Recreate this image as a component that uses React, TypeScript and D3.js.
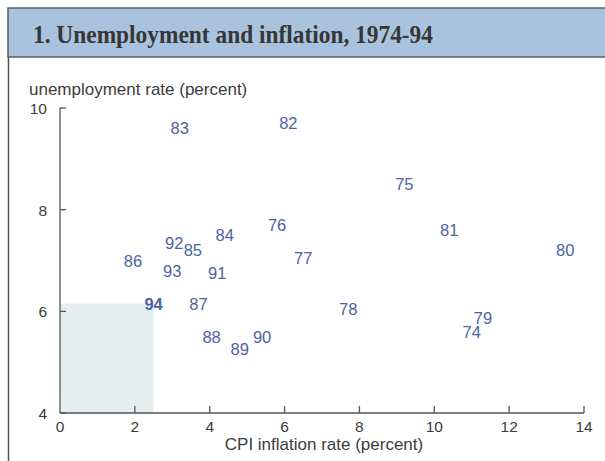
import React, { useRef, useEffect } from 'react';
import * as d3 from 'd3';

// Years (labels) and their CPI inflation / unemployment rates
const years = ['74', '75', '76', '77', '78', '79', '80', '81', '82', '83', '84', '85', '86', '87', '88', '89', '90', '91', '92', '93', '94'];
const inflation = [11.0, 9.2, 5.8, 6.5, 7.7, 11.3, 13.5, 10.4, 6.1, 3.2, 4.4, 3.55, 1.95, 3.7, 4.05, 4.8, 5.4, 4.2, 3.05, 3.0, 2.5];
const unemployment = [5.6, 8.5, 7.7, 7.05, 6.05, 5.87, 7.2, 7.6, 9.7, 9.6, 7.5, 7.2, 7.0, 6.15, 5.5, 5.25, 5.5, 6.75, 7.35, 6.8, 6.15];

const xTicks = [0, 2, 4, 6, 8, 10, 12, 14];
const yTicks = [4, 6, 8, 10];
// shaded target zone: inflation up to 2.5, unemployment up to 6.15
const zoneX = [0, 2.5];
const zoneY = [4, 6.15];

const title = '1. Unemployment and inflation, 1974-94';

const W = 605;
const H = 461;

const App = () => {
  const ref = useRef<SVGSVGElement>(null);

  useEffect(() => {
    const svg = d3.select(ref.current);
    svg.selectAll('*').remove();

    const x = d3.scaleLinear().domain([0, 14]).range([60, 584]);
    const y = d3.scaleLinear().domain([4, 10]).range([413, 108]);
    const ink = '#3c3c3c';
    const sans = 'Helvetica, Arial, "Liberation Sans", sans-serif';

    // title band
    svg.append('rect')
      .attr('x', 8).attr('y', 8).attr('width', W).attr('height', 49)
      .attr('fill', '#a9c3df').attr('stroke', '#5a5e66').attr('stroke-width', 1.5);
    svg.append('text')
      .attr('x', 33).attr('y', 43)
      .attr('font-family', '"Liberation Serif", "Times New Roman", serif')
      .attr('font-weight', 'bold').attr('font-size', 26)
      .attr('textLength', 400).attr('lengthAdjust', 'spacingAndGlyphs')
      .attr('fill', '#363636')
      .text(title);

    // left frame line of panel
    svg.append('line')
      .attr('x1', 8.5).attr('x2', 8.5).attr('y1', 57).attr('y2', H)
      .attr('stroke', '#555').attr('stroke-width', 1.5);

    // shaded zone
    svg.append('rect')
      .attr('x', x(zoneX[0])).attr('y', y(zoneY[1]))
      .attr('width', x(zoneX[1]) - x(zoneX[0]))
      .attr('height', y(zoneY[0]) - y(zoneY[1]))
      .attr('fill', '#e4eeee');

    // axes
    const g = svg.append('g').attr('stroke', '#555').attr('stroke-width', 1.3);
    g.append('line').attr('x1', x(0)).attr('x2', x(0)).attr('y1', y(10)).attr('y2', y(4));
    g.append('line').attr('x1', x(0)).attr('x2', x(14)).attr('y1', y(4)).attr('y2', y(4));
    g.selectAll('.yt').data(yTicks).enter().append('line')
      .attr('x1', x(0)).attr('x2', x(0) + 6).attr('y1', d => y(d)).attr('y2', d => y(d));
    g.selectAll('.xt').data(xTicks.filter(d => d > 0)).enter().append('line')
      .attr('x1', d => x(d)).attr('x2', d => x(d)).attr('y1', y(4)).attr('y2', y(4) - 7);

    svg.selectAll('.ylab').data(yTicks).enter().append('text')
      .attr('x', 47).attr('y', d => y(d) + 6)
      .attr('text-anchor', 'end')
      .attr('font-family', sans).attr('font-size', 15.5).attr('fill', ink)
      .text(d => d);
    svg.selectAll('.xlab').data(xTicks).enter().append('text')
      .attr('x', d => x(d)).attr('y', 432)
      .attr('text-anchor', 'middle')
      .attr('font-family', sans).attr('font-size', 15.5).attr('fill', ink)
      .text(d => d);

    svg.append('text')
      .attr('x', 29).attr('y', 95)
      .attr('font-family', sans).attr('font-size', 17).attr('fill', ink)
      .text('unemployment rate (percent)');
    svg.append('text')
      .attr('x', 324).attr('y', 450).attr('text-anchor', 'middle')
      .attr('font-family', sans).attr('font-size', 17).attr('fill', ink)
      .text('CPI inflation rate (percent)');

    // year labels as the markers
    svg.selectAll('.yr').data(years).enter().append('text')
      .attr('x', (d, i) => x(inflation[i]))
      .attr('y', (d, i) => y(unemployment[i]) + 6)
      .attr('text-anchor', 'middle')
      .attr('font-family', sans).attr('font-size', 16.5)
      .attr('font-weight', d => (d === '94' ? 'bold' : 'normal'))
      .attr('fill', '#4a64a2')
      .text(d => d);
  }, []);

  return (
    <svg ref={ref} width={W} height={H}
      style={{ position: 'absolute', left: 0, top: 0, background: '#fff' }} />
  );
};

export default App;
